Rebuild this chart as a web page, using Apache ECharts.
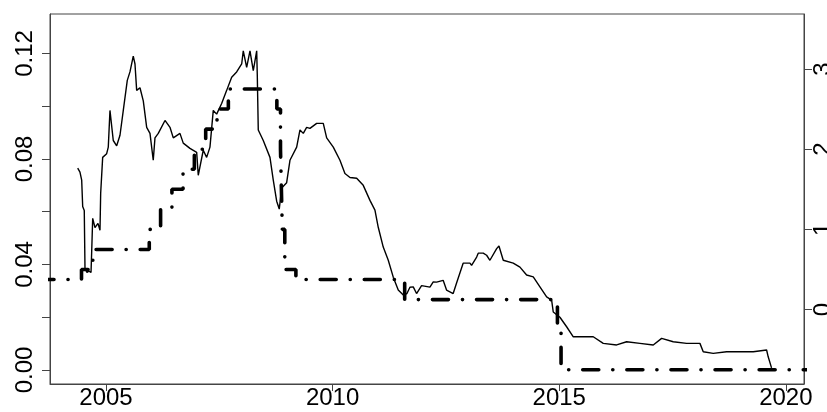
<!DOCTYPE html>
<html>
<head>
<meta charset="utf-8">
<script src="https://cdn.jsdelivr.net/npm/echarts@6/dist/echarts.min.js"></script>
<style>html,body{margin:0;padding:0;background:#fff}#c{width:827px;height:412px}</style>
</head>
<body>
<div id="c"></div>
<script>
// Solid series (left axis): decimal year and value
const spreadDates = [2004.376,2004.426,2004.464,2004.486,2004.521,2004.537,2004.58,2004.625,2004.67,2004.685,2004.707,2004.757,2004.823,2004.868,2004.883,2004.927,2005.015,2005.051,2005.088,2005.161,2005.236,2005.309,2005.382,2005.47,2005.529,2005.602,2005.64,2005.677,2005.75,2005.823,2005.898,2005.971,2006.043,2006.081,2006.154,2006.302,2006.412,2006.485,2006.632,2006.705,2006.853,2007.001,2007.036,2007.146,2007.221,2007.294,2007.367,2007.442,2007.552,2007.663,2007.773,2007.883,2007.994,2008.029,2008.104,2008.177,2008.25,2008.325,2008.338,2008.36,2008.47,2008.618,2008.691,2008.766,2008.823,2008.876,2008.986,2009.059,2009.207,2009.28,2009.353,2009.427,2009.5,2009.648,2009.794,2009.869,2010.015,2010.162,2010.272,2010.383,2010.531,2010.676,2010.824,2010.934,2011.007,2011.117,2011.228,2011.338,2011.448,2011.559,2011.64,2011.706,2011.779,2011.852,2011.963,2011.998,2012.147,2012.22,2012.294,2012.439,2012.514,2012.66,2012.735,2012.88,2013.03,2013.066,2013.178,2013.213,2013.323,2013.398,2013.471,2013.619,2013.67,2013.765,2013.985,2014.133,2014.28,2014.427,2014.574,2014.722,2014.832,2014.868,2015.015,2015.163,2015.31,2015.53,2015.75,2015.971,2016.266,2016.487,2016.78,2017.074,2017.259,2017.515,2017.81,2018.104,2018.177,2018.397,2018.693,2018.986,2019.28,2019.575,2019.61,2019.684];
const spreadValues = [0.0765,0.075,0.072,0.062,0.0605,0.0386,0.037,0.0375,0.037,0.045,0.0575,0.054,0.0556,0.053,0.067,0.0806,0.082,0.0845,0.0984,0.087,0.085,0.089,0.0984,0.1098,0.113,0.119,0.116,0.106,0.107,0.102,0.092,0.0897,0.0795,0.088,0.0897,0.0946,0.092,0.088,0.0897,0.086,0.084,0.0825,0.0738,0.0833,0.0806,0.0845,0.0984,0.097,0.101,0.106,0.111,0.113,0.116,0.121,0.1147,0.121,0.1135,0.121,0.112,0.091,0.087,0.0806,0.072,0.064,0.061,0.069,0.071,0.0795,0.0845,0.091,0.0897,0.092,0.0916,0.0935,0.0935,0.088,0.0845,0.0795,0.0745,0.073,0.0727,0.070,0.0643,0.0606,0.0541,0.0466,0.0416,0.0352,0.0303,0.0284,0.029,0.0314,0.0315,0.029,0.032,0.032,0.0314,0.0334,0.0333,0.034,0.0303,0.029,0.033,0.0405,0.0405,0.0397,0.0428,0.0443,0.0443,0.0435,0.0416,0.046,0.047,0.0416,0.0405,0.039,0.036,0.0353,0.0315,0.0277,0.0265,0.022,0.020,0.0164,0.0126,0.0126,0.0126,0.0101,0.0095,0.0107,0.0101,0.0095,0.012,0.0107,0.0101,0.0101,0.0069,0.0063,0.0069,0.0069,0.0069,0.0076,0.005,0.0008];

// Step series (right axis): date of change and new level
const rateDates = [2003.5,2004.46,2004.71,2005.955,2006.205,2006.455,2006.70,2006.95,2007.20,2007.45,2007.70,2008.77,2008.85,2008.89,2008.945,2009.19,2011.59,2014.96,2015.04,2020.6];
const rateValues = [0.375,0.5,0.75,1.0,1.25,1.5,1.75,2.0,2.25,2.5,2.75,2.5,2.0,1.0,0.5,0.375,0.125,-0.25,-0.75,-0.75];

const xTicks = [2005,2010,2015,2020];
const leftTicks = [0,0.02,0.04,0.06,0.08,0.10,0.12];
const leftLabels = [0,0.04,0.08,0.12];
const rightTicks = [0,1,2,3];

const zip = (a,b) => a.map((v,i)=>[v,b[i]]);
const FONT = 'Liberation Sans, Arial, sans-serif';
const AX = '#444';

const chart = echarts.init(document.getElementById('c'), null, {renderer:'canvas'});
chart.setOption({
  animation:false,
  backgroundColor:'#fff',
  grid:{left:50,right:23,top:14,bottom:28,show:true,borderColor:AX,borderWidth:1,backgroundColor:'transparent',
        containLabel:false,outerBoundsMode:'none'},
  xAxis:{
    type:'value',min:2003.765,max:2020.40,
    axisLine:{show:true,onZero:false,lineStyle:{color:AX}},
    axisTick:{show:true,inside:false,length:7,customValues:xTicks,lineStyle:{color:AX}},
    axisLabel:{customValues:xTicks,formatter:v=>String(v),fontSize:24,fontFamily:FONT,color:'#000',margin:2,hideOverlap:false},
    splitLine:{show:false}
  },
  yAxis:[{
    type:'value',position:'left',min:-0.0053,max:0.13495,
    axisLine:{show:true,lineStyle:{color:AX}},
    axisTick:{show:true,length:8,customValues:leftTicks,lineStyle:{color:AX}},
    axisLabel:{customValues:leftLabels,formatter:v=>v.toFixed(2),rotate:90,fontSize:24,fontFamily:FONT,color:'#000',margin:13},
    splitLine:{show:false}
  },{
    type:'value',position:'right',min:-0.927,max:3.685,
    axisLine:{show:true,lineStyle:{color:AX}},
    axisTick:{show:true,length:8,customValues:rightTicks,lineStyle:{color:AX}},
    axisLabel:{customValues:rightTicks,formatter:v=>String(v),rotate:90,fontSize:24,fontFamily:FONT,color:'#000',margin:7},
    splitLine:{show:false}
  }],
  series:[{
    type:'line',yAxisIndex:1,data:zip(rateDates,rateValues),step:'end',showSymbol:false,
    lineStyle:{color:'#000',width:3.6,type:[16,14,0.1,14],cap:'round'},z:2
  },{
    type:'line',yAxisIndex:0,data:zip(spreadDates,spreadValues),showSymbol:false,
    lineStyle:{color:'#000',width:1.4},z:3
  }]
});
</script>
</body>
</html>
